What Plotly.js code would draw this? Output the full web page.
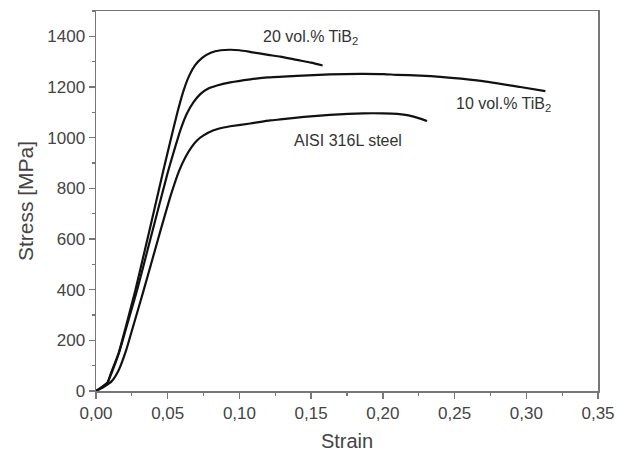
<!DOCTYPE html>
<html>
<head>
<meta charset="utf-8">
<script src="https://cdn.plot.ly/plotly-3.0.1.min.js"></script>
<style>html,body{margin:0;padding:0;background:#fff;}#chart{width:627px;height:458px;}</style>
</head>
<body>
<div id="chart"></div>
<script>
// 20 vol.% TiB2
var strain20 = [0, 0.004, 0.008, 0.0105, 0.0158, 0.0204, 0.0274, 0.0367, 0.047, 0.052, 0.057, 0.061, 0.065, 0.069, 0.074, 0.08, 0.087, 0.094, 0.1, 0.108, 0.12, 0.1285, 0.14, 0.15, 0.158];
var stress20 = [0, 15, 33, 72, 150, 245, 397, 620, 871, 990, 1105, 1185, 1245, 1285, 1315, 1335, 1345, 1347, 1345, 1338, 1327, 1320, 1307, 1296, 1285];
// 10 vol.% TiB2
var strain10 = [0, 0.004, 0.008, 0.0108, 0.016, 0.0207, 0.0286, 0.0383, 0.05, 0.054, 0.0588, 0.0634, 0.068, 0.0727, 0.078, 0.0844, 0.0936, 0.1076, 0.12, 0.14, 0.163, 0.1843, 0.2005, 0.21, 0.226, 0.24, 0.2656, 0.2958, 0.3133];
var stress10 = [0, 15, 33, 70, 150, 242, 397, 608, 862, 940, 1029, 1095, 1140, 1172, 1193, 1206, 1218, 1230, 1238, 1244, 1250, 1252, 1251, 1248, 1245, 1240, 1226, 1200, 1184];
// AISI 316L steel
var strainSteel = [0, 0.005, 0.011, 0.0158, 0.0211, 0.0251, 0.0332, 0.0437, 0.052, 0.058, 0.0625, 0.0665, 0.0704, 0.075, 0.082, 0.089, 0.0936, 0.1076, 0.1215, 0.1285, 0.145, 0.163, 0.1866, 0.2, 0.21, 0.218, 0.226, 0.2308];
var stressSteel = [0, 15, 39, 82, 162, 240, 397, 608, 770, 870, 925, 962, 989, 1009, 1029, 1040, 1045, 1056, 1068, 1072, 1082, 1090, 1096, 1096, 1094, 1088, 1075, 1066];

var labelTexts = ['20 vol.% TiB<sub>2</sub>', '10 vol.% TiB<sub>2</sub>', 'AISI 316L steel'];
var labelX = [0.1494, 0.284, 0.176];
var labelY = [1396, 1131, 989];

var lineStyle = {color: '#111', width: 2.2, shape: 'spline', smoothing: 0.5};
var traces = [
  {x: strain20, y: stress20, mode: 'lines', line: lineStyle, hoverinfo: 'none'},
  {x: strain10, y: stress10, mode: 'lines', line: lineStyle, hoverinfo: 'none'},
  {x: strainSteel, y: stressSteel, mode: 'lines', line: lineStyle, hoverinfo: 'none'}
];

var FONT = 'Liberation Sans, Arial, sans-serif';
var annotations = labelTexts.map(function (t, i) {
  return {x: labelX[i], y: labelY[i], xref: 'x', yref: 'y', text: t, showarrow: false,
          font: {family: FONT, size: 16, color: '#333'}};
});

var axisCommon = {
  showgrid: false, zeroline: false, showline: true, linecolor: '#777', linewidth: 1.5,
  mirror: true, ticks: 'outside', ticklen: 6, tickwidth: 1.5, tickcolor: '#777',
  tickfont: {family: FONT, size: 17, color: '#444'}
};

var layout = {
  width: 627, height: 458,
  margin: {l: 96, r: 29, t: 11, b: 67},
  paper_bgcolor: '#fff', plot_bgcolor: '#fff',
  showlegend: false,
  separators: ',.',
  xaxis: Object.assign({}, axisCommon, {
    range: [0, 0.35], dtick: 0.05, tick0: 0, tickformat: '.2f',
    minor: {dtick: 0.025, ticks: 'outside', ticklen: 3, tickwidth: 1.2, tickcolor: '#777', showgrid: false},
    title: {text: 'Strain', font: {family: FONT, size: 20, color: '#444'}, standoff: 12}
  }),
  yaxis: Object.assign({}, axisCommon, {
    range: [0, 1500], dtick: 200, tick0: 0,
    minor: {dtick: 100, ticks: 'outside', ticklen: 3, tickwidth: 1.2, tickcolor: '#777', showgrid: false},
    title: {text: 'Stress [MPa]', font: {family: FONT, size: 21, color: '#444'}, standoff: 8}
  }),
  annotations: annotations
};

Plotly.newPlot('chart', traces, layout, {staticPlot: true, displayModeBar: false});
</script>
</body>
</html>
